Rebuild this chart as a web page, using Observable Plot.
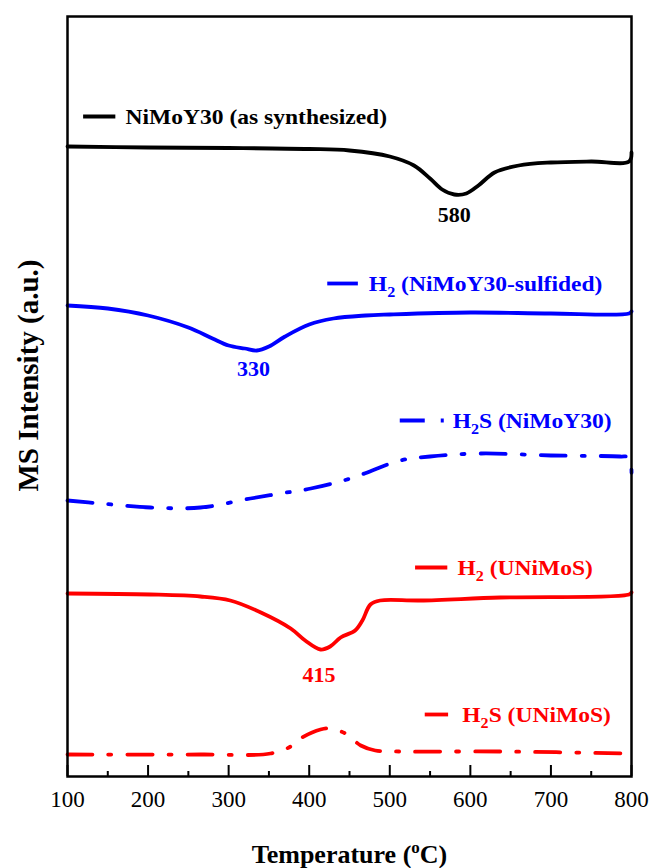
<!DOCTYPE html>
<html><head><meta charset="utf-8">
<script src="https://cdn.jsdelivr.net/npm/d3@7"></script>
<script src="https://cdn.jsdelivr.net/npm/@observablehq/plot@0.6"></script>
<style>body{margin:0;background:#fff}</style>
</head><body><div id="chart"></div>
<script>
// Temperature (°C) and MS intensity (a.u., offset-stacked)
const blackT = [100,200,300,400,450,500,530,550,565,580,595,610,630,660,700,750,797,800];
const blackI = [630,629,628.5,627.5,626,620,611,598,587,582,583,591,604,611,614,615,615,624];

const blueH2T = [100,150,200,250,280,300,320,335,350,370,400,430,470,500,600,700,797,800];
const blueH2I = [471,468,461,449,438,431,428,426,430,440,452,458,461,462,464,463,463,465];

const blueH2ST = [100,141,203,265,327,364,402,451,513,550,613,700,786,797,800];
const blueH2SI = [276,273,269,269,278,283,288,298,316,320,323,321,320,319,299];

const redH2T = [100,203,265,302,340,377,395,414,426,439,457,466,476,488,538,637,797,800];
const redH2I = [183,182,180,176,164,148,136,127,130,139,146,156,172,176,176,179,182,184];

const redH2ST = [100,265,352,377,389,414,426,445,464,482,513,637,800];
const redH2SI = [22,22,23,30,38,47,48,43,31,26,25,25,23];

const seriesNames = ["NiMoY30 (as synthesized)","H2 (NiMoY30-sulfided)","H2S (NiMoY30)","H2 (UNiMoS)","H2S (UNiMoS)"];
const seriesColors = ["#000000","#0000ff","#0000ff","#ff0000","#ff0000"];
const seriesDash = [null,null,"25,16,3,16",null,"25,16,3,16"];
const seriesT = [blackT, blueH2T, blueH2ST, redH2T, redH2ST];
const seriesI = [blackI, blueH2I, blueH2SI, redH2I, redH2SI];

// legend placement (data units)
const legendX1 = [120,423,513,532,544];
const legendX2 = [160,461,568,572,573];
const legendTextX = [172,474,578,584,590];
const legendY = [660,493,356,209,62];

// peak labels
const peakLabels = ["580","330","415"];
const peakT = [580,331,412];
const peakI = [562,408,102];
const peakColors = ["#000000","#0000ff","#ff0000"];

const xTicks = [100,200,300,400,500,600,700,800];
const xMinor = [150,250,350,450,550,650,750];

const font = "'Liberation Serif','Times New Roman',serif";
const LW = 3.8;

const lineMarks = seriesNames.map((n,i) => Plot.line(
  seriesT[i].map((t,j) => ({T:t, I:seriesI[i][j]})),
  {x:"T", y:"I", stroke: seriesColors[i], strokeWidth: LW, curve:"catmull-rom",
   strokeDasharray: seriesDash[i] ?? undefined}
));
const legendLines = seriesNames.map((n,i) => Plot.ruleY([legendY[i]],
  {x1: legendX1[i], x2: legendX2[i], stroke: seriesColors[i], strokeWidth: LW,
   strokeDasharray: seriesDash[i] ?? undefined}));
const legendTexts = Plot.text(seriesNames.map((n,i)=>({n, x:legendTextX[i], y:legendY[i], c:seriesColors[i]})),
  {x:"x", y:"y", text:"n", fill:"c", textAnchor:"start", fontSize:22, fontWeight:"bold", className:"legtext"});
const peakText = Plot.text(peakLabels.map((l,i)=>({l, x:peakT[i], y:peakI[i], c:peakColors[i]})),
  {x:"x", y:"y", text:"l", fill:"c", fontSize:22, fontWeight:"bold"});

const chart = Plot.plot({
  width: 654, height: 868,
  marginTop: 16, marginBottom: 92, marginLeft: 67, marginRight: 23,
  style: {fontFamily: font, background: "#fff", color: "#000"},
  x: {domain: [100, 800]},
  y: {domain: [0, 760]},
  marks: [
    ...lineMarks,
    ...legendLines,
    legendTexts,
    peakText,
    Plot.ruleX(xTicks, {x: d=>d, y1: 0, y2: 11, stroke:"#000", strokeWidth: 2}),
    Plot.ruleX(xMinor, {x: d=>d, y1: 0, y2: 5, stroke:"#000", strokeWidth: 2}),
    Plot.axisX({ticks: xTicks, tickSize: 0, tickPadding: 14, fontSize: 23, tickFormat: d=>String(d), label: null}),
    Plot.axisY({ticks: [], label: null, tickSize: 0}),
    Plot.frame({stroke:"#000", strokeWidth: 2.5}),
    Plot.text(["Temperature (oC)"], {frameAnchor:"bottom", dy: 86, lineAnchor:"bottom", fontSize: 26, fontWeight:"bold"}),
    Plot.text(["MS Intensity (a.u.)"], {frameAnchor:"left", y: [401], dx: -39, rotate: -90, textAnchor:"middle", fontSize: 29, fontWeight:"bold"})
  ]
});
document.getElementById("chart").appendChild(chart);

// subscripts / superscripts
const ns = "http://www.w3.org/2000/svg";
chart.querySelectorAll("text").forEach(t => {
  const s = t.textContent;
  if (/^H2/.test(s)) {
    const rest = s.slice(2);
    t.textContent = "";
    const a = document.createElementNS(ns,"tspan"); a.textContent = "H"; t.appendChild(a);
    const b = document.createElementNS(ns,"tspan"); b.textContent = "2"; b.setAttribute("dy","6"); b.setAttribute("font-size","15"); t.appendChild(b);
    const c = document.createElementNS(ns,"tspan"); c.textContent = rest; c.setAttribute("dy","-6"); t.appendChild(c);
  } else if (s === "Temperature (oC)") {
    t.textContent = "";
    const a = document.createElementNS(ns,"tspan"); a.textContent = "Temperature ("; t.appendChild(a);
    const b = document.createElementNS(ns,"tspan"); b.textContent = "o"; b.setAttribute("dy","-10"); b.setAttribute("font-size","17"); t.appendChild(b);
    const c = document.createElementNS(ns,"tspan"); c.textContent = "C)"; c.setAttribute("dy","10"); t.appendChild(c);
  }
});
// the reference's legend lettering is slightly wider than Liberation Serif
chart.querySelectorAll(".legtext text").forEach(t => {
  const len = t.getComputedTextLength();
  t.setAttribute("textLength", (len * 1.07).toFixed(1));
  t.setAttribute("lengthAdjust", "spacingAndGlyphs");
});
</script></body></html>
